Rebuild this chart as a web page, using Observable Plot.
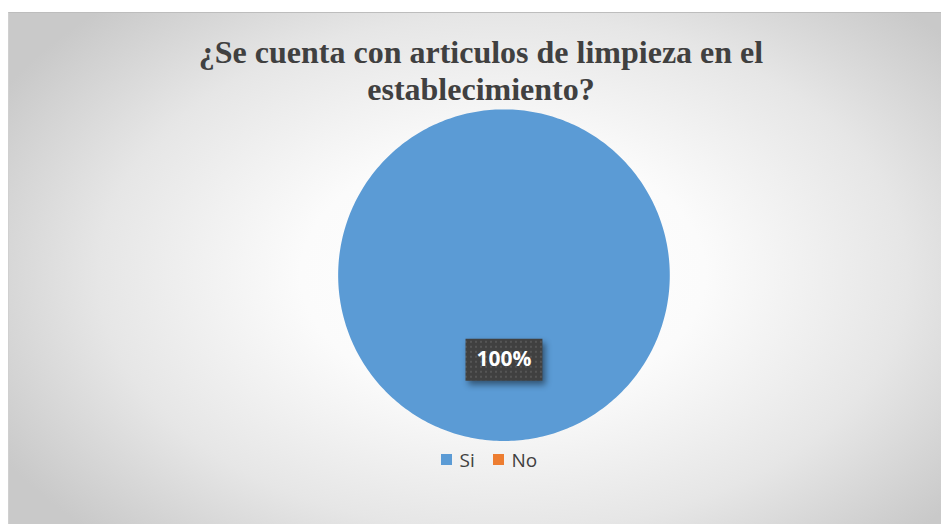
<!DOCTYPE html>
<html>
<head>
<meta charset="utf-8">
<script src="https://cdn.jsdelivr.net/npm/d3@7"></script>
<script src="https://cdn.jsdelivr.net/npm/@observablehq/plot@0.6"></script>
<style>
  html, body { margin: 0; padding: 0; background: #fff; }
  #chart {
    position: absolute; left: 8px; top: 12px; width: 933px; height: 512px;
    border-top: 1px solid #bdbdbd; border-left: 1px solid #d0d0d0; box-sizing: border-box;
    background: radial-gradient(ellipse 62% 72% at 53% 51%, #ffffff 0%, #fbfbfb 35%, #e6e6e6 70%, #c9c9c9 100%);
    overflow: hidden;
  }
  #title {
    position: absolute; left: 0; top: 21px; width: 944px; text-align: center;
    font-family: "Liberation Serif", "Times New Roman", serif; font-weight: bold;
    font-size: 32px; line-height: 37px; color: #404040;
  }
  #plot { position: absolute; left: 0; top: 0; }
  #legend { position: absolute; left: 432px; top: 430px; }
  #legend, #legend div, #legend span {
    font-family: "Open Sans", sans-serif !important; font-size: 19px !important; color: #404040 !important;
  }
  #legend span { margin-right: 0.95em !important; }
  #legend svg { margin-right: 0.4em !important; }
  .lbl-box { filter: drop-shadow(3px 4px 3px rgba(0,0,0,0.45)); }
</style>
</head>
<body>
<div id="chart">
  <div id="plot"></div>
  <div id="title">¿Se cuenta con articulos de limpieza en el<br>establecimiento?</div>
  <div id="legend"></div>
</div>
<script>
const categories = ["Si", "No"];
const values = [100, 0];
const colors = ["#5B9BD5", "#ED7D31"];

const total = d3.sum(values);
const arcs = d3.pie().sort(null).value(d => d)(values);

// Build polygon vertices for each slice (unit circle, start at 12 o'clock, clockwise)
const slicePts = [];
arcs.forEach((a, i) => {
  if (a.endAngle - a.startAngle <= 0) return;
  slicePts.push({cat: categories[i], x: 0, y: 0});
  const n = Math.max(2, Math.ceil((a.endAngle - a.startAngle) / (Math.PI / 180)));
  for (let k = 0; k <= n; k++) {
    const t = a.startAngle + (a.endAngle - a.startAngle) * k / n;
    slicePts.push({cat: categories[i], x: Math.sin(t), y: Math.cos(t)});
  }
  slicePts.push({cat: categories[i], x: 0, y: 0});
});

const labels = arcs.filter(a => a.value > 0).map(a => {
  const i = arcs.indexOf(a);
  const m = (a.startAngle + a.endAngle) / 2;
  return {cat: categories[i], x: 0.51 * Math.sin(m), y: 0.51 * Math.cos(m),
          text: Math.round(a.value / total * 100) + "%"};
});

const boxSymbol = {draw(ctx) { ctx.rect(-38.5, -21, 77, 42); }};

const W = 933, H = 512, cx = 495, cy = 262, R = 166;
const plot = Plot.plot({
  width: W, height: H,
  margin: 0,
  style: {background: "transparent", overflow: "visible"},
  x: {domain: [-1, 1], range: [cx - R, cx + R], axis: null},
  y: {domain: [-1, 1], range: [cy + R, cy - R], axis: null},
  color: {domain: categories, range: colors},
  marks: [
    Plot.line(slicePts, {x: "x", y: "y", z: "cat", fill: "cat", stroke: "none", curve: "linear"}),
    Plot.dot(labels, {x: "x", y: "y", symbol: boxSymbol, r: 10, fill: "url(#dotpat)", stroke: "none", className: "lbl-box"}),
    Plot.text(labels, {x: "x", y: "y", text: "text", fill: "white", fontSize: 21, fontWeight: "bold",
      fontFamily: "Open Sans, sans-serif"})
  ]
});

const ns = "http://www.w3.org/2000/svg";
const defs = document.createElementNS(ns, "defs");
defs.innerHTML = `<pattern id="dotpat" patternUnits="userSpaceOnUse" width="5" height="5">
  <rect width="5" height="5" fill="#404040"/><rect x="1" y="1" width="2" height="2" fill="#555555"/></pattern>`;
plot.insertBefore(defs, plot.firstChild);
document.getElementById("plot").appendChild(plot);

const leg = Plot.legend({
  color: {domain: categories, range: colors},
  legend: "swatches", swatchSize: 11, className: "lg"
});
document.getElementById("legend").appendChild(leg);
</script>
</body>
</html>
